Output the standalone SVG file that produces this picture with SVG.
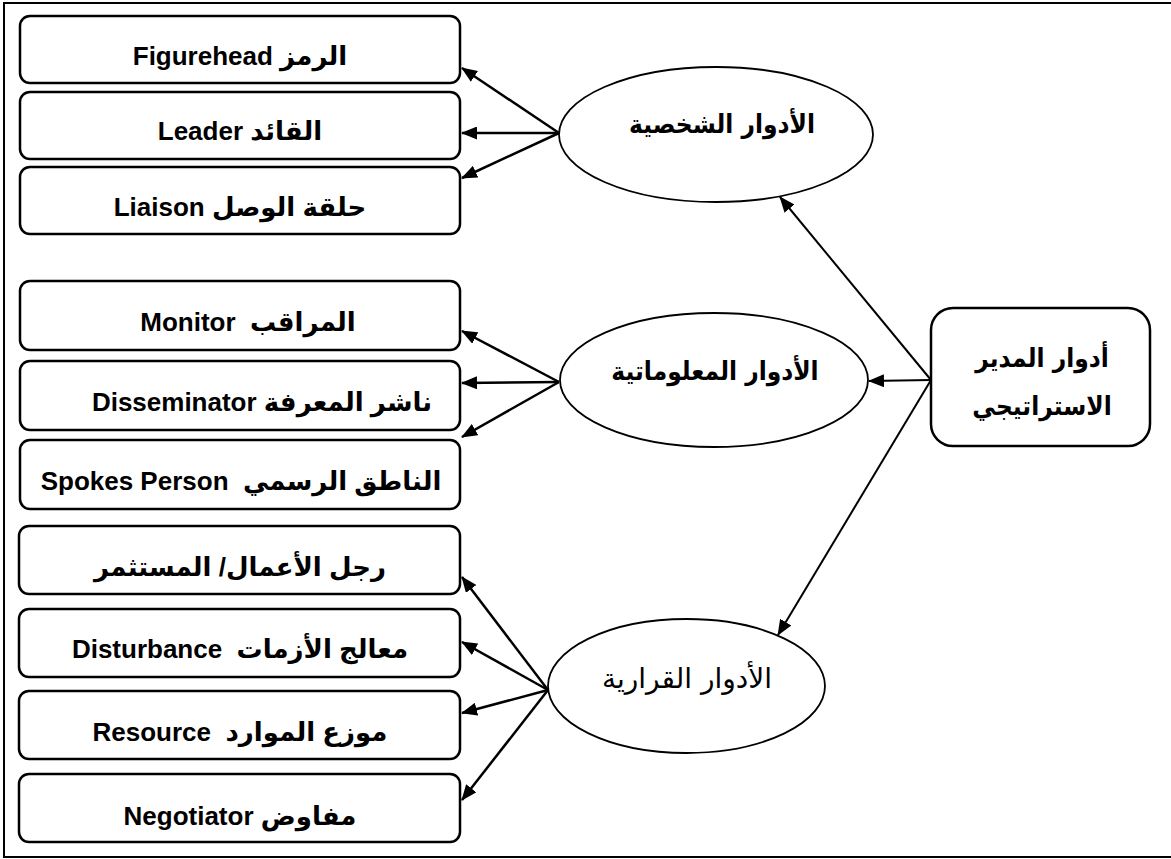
<svg xmlns="http://www.w3.org/2000/svg" width="1171" height="859" viewBox="0 0 1171 859">
  <defs>
    <marker id="arrow" viewBox="0 0 16 13" markerWidth="16" markerHeight="13" refX="15" refY="6.5" orient="auto" markerUnits="userSpaceOnUse">
      <path d="M0,0 L16,6.5 L0,13 z" fill="#000"/>
    </marker>
    <style>
      .frame { fill: none; stroke: #000; stroke-width: 2; }
      .box { fill: #fff; stroke: #000; stroke-width: 2.5; }
      .oval { fill: #fff; stroke: #000; stroke-width: 1.8; }
      .lbl { font-family: "Liberation Sans", "DejaVu Sans", sans-serif; font-weight: bold; font-size: 26px; fill: #000; text-anchor: middle; direction: rtl; unicode-bidi: embed; white-space: pre; }
      .ar { font-family: "DejaVu Sans Condensed", "DejaVu Sans", sans-serif; }
      .plain { font-weight: normal; font-size: 28px; font-family: "DejaVu Sans", sans-serif; }
      .link { stroke: #000; stroke-width: 2.5; fill: none; marker-end: url(#arrow); }
      .trunk { stroke-width: 2; }
    </style>
  </defs>

  <rect x="0" y="0" width="1171" height="859" fill="#fff"/>
  <!-- outer border -->
  <rect class="frame" x="4" y="3" width="1172" height="854"/>

  <!-- connectors -->
  <g id="connectors">
    <!-- central box to the three role groups -->
    <line class="link trunk" x1="931" y1="380" x2="780" y2="197"/>
    <line class="link trunk" x1="931" y1="380" x2="869" y2="381"/>
    <line class="link trunk" x1="931" y1="380" x2="778" y2="635"/>
    <!-- interpersonal roles -->
    <line class="link" x1="559" y1="133" x2="462" y2="68"/>
    <line class="link" x1="559" y1="133" x2="462" y2="133"/>
    <line class="link" x1="559" y1="133" x2="462" y2="178"/>
    <!-- informational roles -->
    <line class="link" x1="559" y1="382" x2="462" y2="331"/>
    <line class="link" x1="559" y1="382" x2="462" y2="383"/>
    <line class="link" x1="559" y1="382" x2="462" y2="437"/>
    <!-- decisional roles -->
    <line class="link" x1="548" y1="690" x2="462" y2="577"/>
    <line class="link" x1="548" y1="690" x2="462" y2="642"/>
    <line class="link" x1="548" y1="690" x2="462" y2="713"/>
    <line class="link" x1="548" y1="690" x2="462" y2="800"/>
  </g>

  <!-- central node -->
  <g id="strategic-manager">
    <rect class="box" x="931" y="308" width="219" height="138" rx="22"/>
    <text class="lbl ar" x="1042" y="367">أدوار المدير</text>
    <text class="lbl ar" x="1042" y="415">الاستراتيجي</text>
  </g>

  <!-- role groups -->
  <g id="interpersonal">
    <ellipse class="oval" cx="716" cy="134.5" rx="157" ry="67.5"/>
    <text class="lbl ar" x="722" y="133">الأدوار الشخصية</text>
  </g>
  <g id="informational">
    <ellipse class="oval" cx="714" cy="380" rx="154" ry="67"/>
    <text class="lbl ar" x="715" y="380">الأدوار المعلوماتية</text>
  </g>
  <g id="decisional">
    <ellipse class="oval" cx="686.5" cy="686" rx="138.5" ry="67"/>
    <text class="lbl plain" x="687" y="688">الأدوار القرارية</text>
  </g>

  <!-- interpersonal roles -->
  <g id="figurehead">
    <rect class="box" x="20" y="16" width="440" height="67" rx="10"/>
    <text class="lbl" x="240" y="65">الرمز Figurehead</text>
  </g>
  <g id="leader">
    <rect class="box" x="20" y="92" width="440" height="67" rx="10"/>
    <text class="lbl" x="240" y="140">القائد Leader</text>
  </g>
  <g id="liaison">
    <rect class="box" x="20" y="167" width="440" height="67" rx="10"/>
    <text class="lbl" x="240" y="216">حلقة الوصل Liaison</text>
  </g>

  <!-- informational roles -->
  <g id="monitor">
    <rect class="box" x="20" y="281" width="440" height="69" rx="10"/>
    <text class="lbl" x="248" y="331">المراقب  Monitor</text>
  </g>
  <g id="disseminator">
    <rect class="box" x="20" y="361" width="440" height="69" rx="10"/>
    <text class="lbl" x="262" y="411">ناشر المعرفة Disseminator</text>
  </g>
  <g id="spokesperson">
    <rect class="box" x="20" y="440" width="440" height="69" rx="10"/>
    <text class="lbl" x="241" y="490">الناطق الرسمي  Spokes Person</text>
  </g>

  <!-- decisional roles -->
  <g id="entrepreneur">
    <rect class="box" x="19" y="526" width="441" height="68" rx="10"/>
    <text class="lbl" x="240" y="576">رجل الأعمال/ المستثمر</text>
  </g>
  <g id="disturbance">
    <rect class="box" x="19" y="609" width="441" height="68" rx="10"/>
    <text class="lbl" x="240" y="658">معالج الأزمات  Disturbance</text>
  </g>
  <g id="resource">
    <rect class="box" x="19" y="691" width="441" height="68" rx="10"/>
    <text class="lbl" x="240" y="741">موزع الموارد  Resource</text>
  </g>
  <g id="negotiator">
    <rect class="box" x="19" y="774" width="441" height="68" rx="10"/>
    <text class="lbl" x="240" y="825">مفاوض Negotiator</text>
  </g>
</svg>
